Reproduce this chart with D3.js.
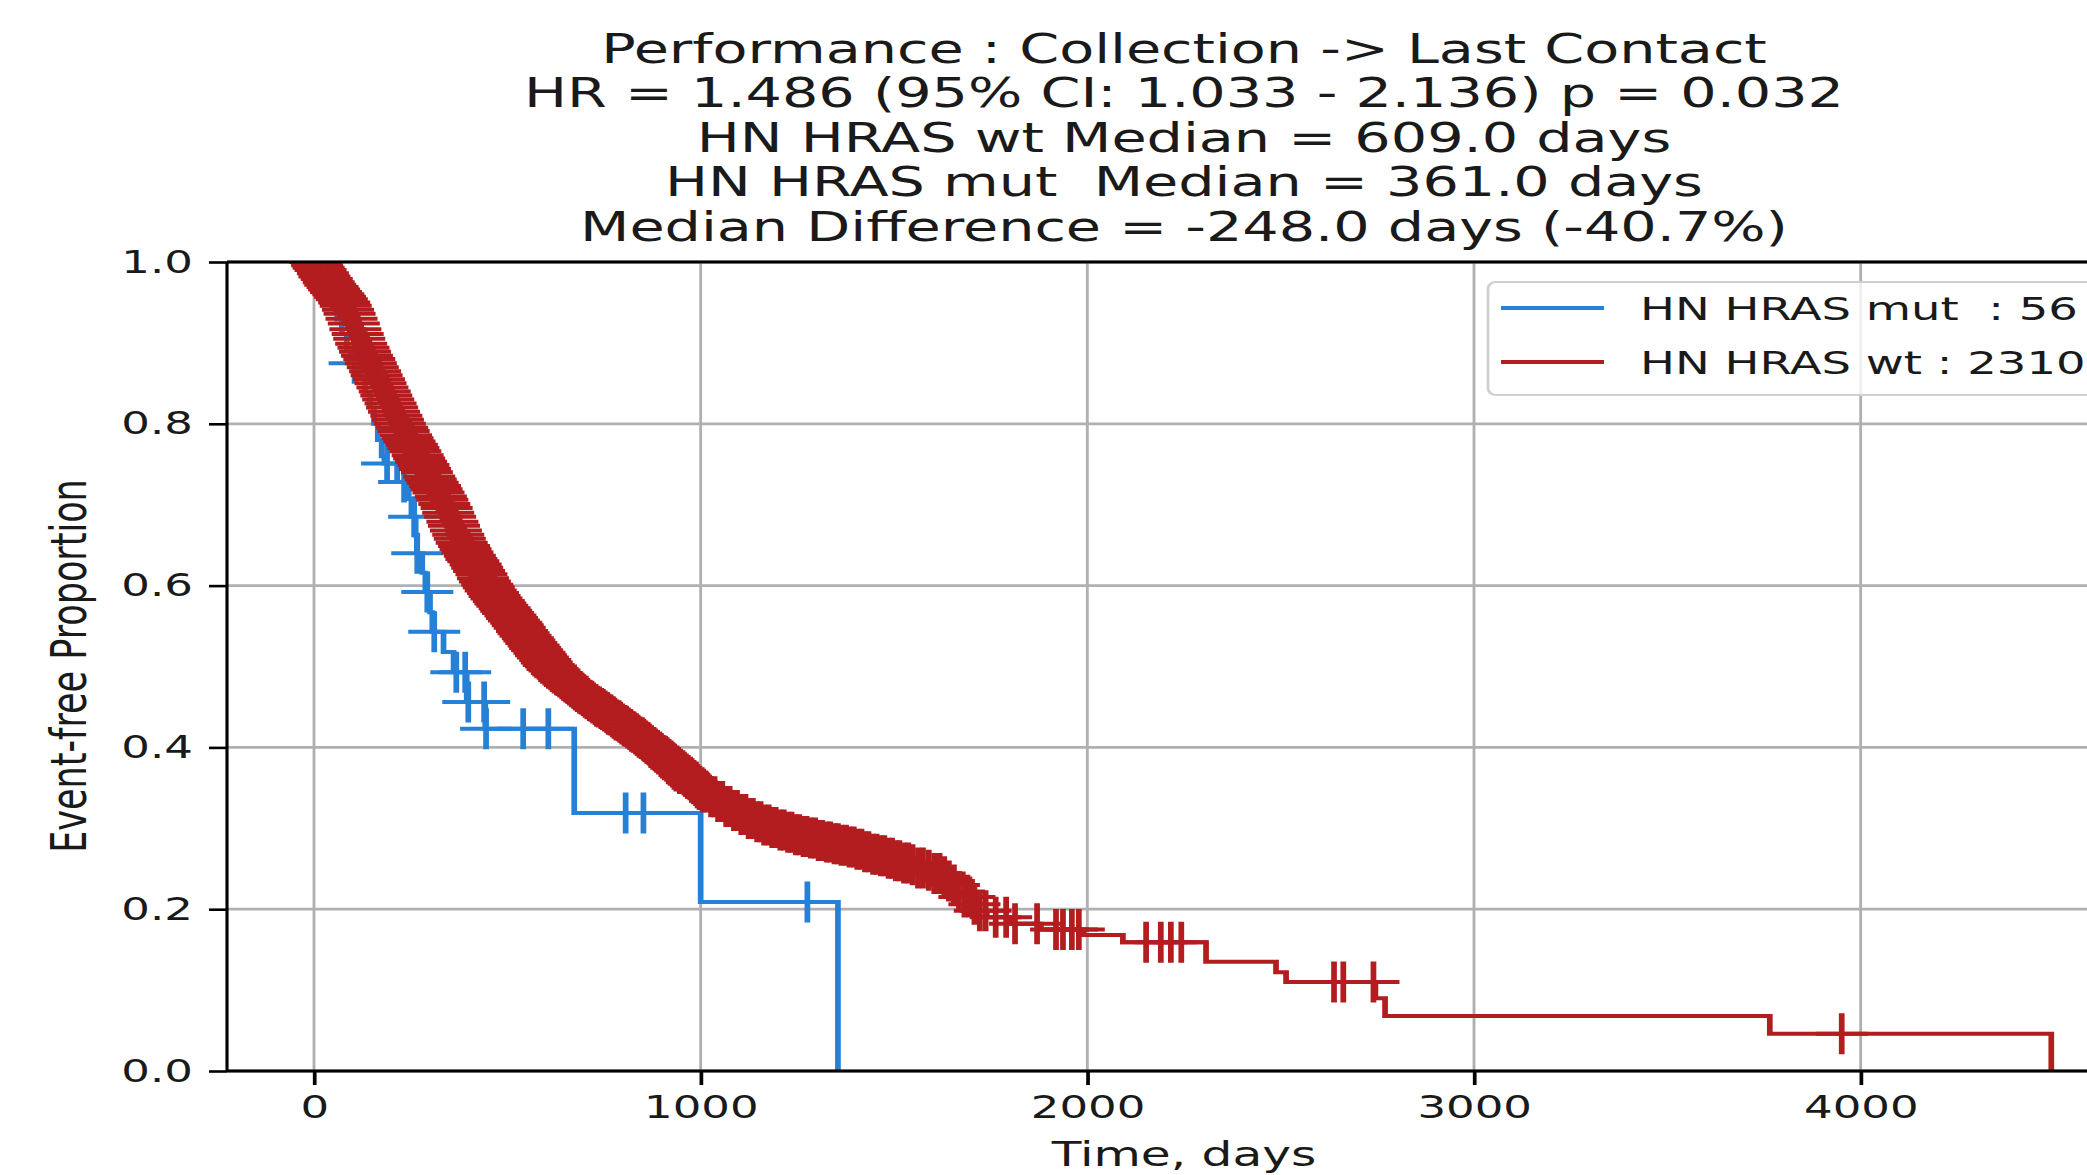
<!DOCTYPE html>
<html>
<head>
<meta charset="utf-8">
<script src="https://cdn.jsdelivr.net/npm/d3@7"></script>
<style>
  body { margin: 0; background: #fff; }
  text { font-family: 'DejaVu Sans', sans-serif; fill: #1a1a1a; }
</style>
</head>
<body>
<div id="chart"></div>
<script>
// ---- data ----
const titleLines = [
  'Performance : Collection -> Last Contact',
  'HR = 1.486 (95% CI: 1.033 - 2.136) p = 0.032',
  'HN HRAS wt Median = 609.0 days',
  'HN HRAS mut  Median = 361.0 days',
  'Median Difference = -248.0 days (-40.7%)'
];
const xTicks = [0, 1000, 2000, 3000, 4000];
const yTicks = [0, 0.2, 0.4, 0.6, 0.8, 1.0];
const legendLabels = ['HN HRAS mut  : 56', 'HN HRAS wt : 2310'];

// HN HRAS mut: step points (day, survival) and censored days
const mutDays = [0, 20, 35, 48, 60, 72, 85, 95, 120, 132, 145, 155, 165, 175, 182, 215, 245, 252, 263, 266, 280, 288, 300, 306, 335, 361, 395, 443, 673, 1000, 1355];
const mutSurv = [1.0, 0.982, 0.964, 0.946, 0.929, 0.911, 0.893, 0.875, 0.857, 0.839, 0.82, 0.80, 0.78, 0.76, 0.751, 0.728, 0.707, 0.685, 0.662, 0.640, 0.616, 0.592, 0.567, 0.543, 0.518, 0.493, 0.456, 0.423, 0.319, 0.209, 0.0];
const mutCensor = [105, 189, 233, 259, 267, 293, 311, 368, 391, 399, 440, 445, 541, 606, 806, 852, 1276];

// HN HRAS wt: step points (day, survival) and censored days
const wtDays = [
  0, 5, 10, 15, 20, 25, 30, 35, 40, 45, 50, 55, 60, 65, 70, 75, 80, 85, 90, 95,
  100, 105, 110, 115, 120, 125, 130, 135, 140, 145, 150, 155, 160, 165, 170, 175, 180, 185, 190, 195,
  200, 205, 210, 215, 220, 225, 230, 235, 240, 245, 250, 255, 260, 265, 270, 275, 280, 285, 290, 295,
  300, 305, 310, 315, 320, 325, 330, 335, 340, 345, 350, 355, 360, 365, 370, 375, 380, 385, 390, 395,
  400, 405, 410, 415, 420, 425, 430, 435, 440, 445, 450, 455, 460, 465, 470, 475, 480, 485, 490, 495,
  500, 505, 510, 515, 520, 525, 530, 535, 540, 545, 550, 555, 560, 565, 570, 575, 580, 585, 590, 595,
  600, 605, 610, 615, 620, 625, 630, 635, 640, 645, 650, 655, 660, 665, 670, 675, 680, 685, 690, 695,
  700, 705, 710, 715, 720, 725, 730, 735, 740, 745, 750, 755, 760, 765, 770, 775, 780, 785, 790, 795,
  800, 805, 810, 815, 820, 825, 830, 835, 840, 845, 850, 855, 860, 865, 870, 875, 880, 885, 890, 895,
  900, 905, 910, 915, 920, 925, 930, 935, 940, 945, 950, 955, 960, 965, 970, 975, 980, 985, 990, 995,
  1000, 1020, 1040, 1060, 1080, 1100, 1120, 1140, 1160, 1180, 1200, 1220, 1240, 1260, 1280, 1300,
  1320, 1340, 1360, 1380, 1400, 1420, 1440, 1460, 1480, 1500, 1520, 1540, 1560, 1580, 1600, 1620,
  1635, 1650, 1665, 1680, 1697, 1714, 1740, 1800, 1880, 1990, 2092, 2307, 2488, 2514, 2745, 2770, 3765, 4493
];
const wtSurv = [
  1.000, 0.996, 0.993, 0.990, 0.986, 0.982, 0.979, 0.975, 0.972, 0.969, 0.966, 0.963, 0.960, 0.957, 0.954, 0.950, 0.946, 0.941, 0.936, 0.930,
  0.924, 0.917, 0.911, 0.905, 0.899, 0.894, 0.889, 0.884, 0.880, 0.875, 0.870, 0.865, 0.860, 0.855, 0.850, 0.845, 0.840, 0.835, 0.830, 0.825,
  0.820, 0.815, 0.810, 0.805, 0.800, 0.795, 0.791, 0.786, 0.782, 0.778, 0.774, 0.770, 0.766, 0.761, 0.757, 0.753, 0.749, 0.744, 0.740, 0.735,
  0.731, 0.727, 0.723, 0.719, 0.715, 0.710, 0.706, 0.701, 0.696, 0.690, 0.685, 0.679, 0.674, 0.668, 0.663, 0.658, 0.653, 0.649, 0.645, 0.641,
  0.637, 0.633, 0.630, 0.626, 0.622, 0.618, 0.614, 0.609, 0.605, 0.601, 0.598, 0.594, 0.591, 0.587, 0.584, 0.581, 0.578, 0.575, 0.572, 0.569,
  0.566, 0.563, 0.560, 0.557, 0.554, 0.551, 0.548, 0.544, 0.541, 0.538, 0.535, 0.532, 0.529, 0.526, 0.523, 0.520, 0.517, 0.514, 0.511, 0.508,
  0.505, 0.502, 0.500, 0.497, 0.495, 0.492, 0.490, 0.488, 0.486, 0.483, 0.481, 0.479, 0.477, 0.475, 0.473, 0.471, 0.469, 0.467, 0.466, 0.464,
  0.462, 0.460, 0.458, 0.457, 0.455, 0.453, 0.451, 0.450, 0.448, 0.447, 0.445, 0.443, 0.441, 0.440, 0.438, 0.436, 0.434, 0.433, 0.431, 0.429,
  0.427, 0.426, 0.424, 0.422, 0.420, 0.419, 0.417, 0.415, 0.413, 0.412, 0.410, 0.408, 0.406, 0.404, 0.402, 0.400, 0.398, 0.396, 0.394, 0.392,
  0.390, 0.388, 0.386, 0.384, 0.382, 0.380, 0.377, 0.375, 0.373, 0.371, 0.369, 0.366, 0.364, 0.362, 0.360, 0.357, 0.355, 0.353, 0.350, 0.348,
  0.345, 0.339, 0.333, 0.327, 0.322, 0.317, 0.312, 0.308, 0.304, 0.301, 0.298, 0.295, 0.292, 0.290, 0.288, 0.285,
  0.283, 0.281, 0.279, 0.277, 0.274, 0.271, 0.268, 0.266, 0.263, 0.260, 0.257, 0.255, 0.251, 0.248, 0.244, 0.240,
  0.235, 0.230, 0.222, 0.215, 0.206, 0.198, 0.190, 0.182, 0.175, 0.168, 0.159, 0.135, 0.122, 0.110, 0.090, 0.068, 0.046, 0.0
];
const wtCensor = [
  3, 8, 12, 17, 23, 27, 33, 38, 42, 48, 52, 57, 63, 67, 72, 78, 82, 88, 92, 97,
  103, 107, 113, 117, 122, 128, 132, 137, 143, 147, 152, 158, 162, 168, 172, 177, 183, 187, 192, 198,
  202, 207, 213, 217, 222, 228, 232, 238, 242, 247, 253, 257, 262, 268, 272, 277, 283, 287, 292, 298,
  302, 307, 313, 317, 322, 328, 332, 337, 343, 347, 352, 358, 362, 367, 373, 377, 382, 388, 392, 397,
  403, 407, 412, 418, 422, 427, 433, 437, 442, 448, 452, 457, 463, 467, 472, 478, 482, 487, 493, 497,
  502, 508, 512, 517, 523, 527, 532, 538, 542, 547, 553, 557, 562, 568, 572, 577, 583, 587, 592, 598,
  602, 607, 613, 617, 622, 628, 632, 637, 643, 647, 652, 658, 662, 667, 673, 677, 682, 688, 692, 697,
  702, 707, 713, 717, 722, 728, 732, 737, 743, 747, 752, 758, 762, 767, 773, 777, 782, 788, 792, 797,
  803, 807, 812, 818, 822, 827, 833, 837, 842, 848, 852, 857, 863, 867, 872, 878, 882, 887, 893, 897,
  902, 907, 913, 917, 922, 928, 932, 937, 943, 947, 952, 958, 962, 967, 973, 977, 982, 988, 992, 997,
  1006, 1015, 1027, 1036, 1045, 1056, 1066, 1075, 1086, 1094, 1105, 1116, 1124, 1135, 1146, 1155, 1164, 1176, 1185, 1194,
  1206, 1215, 1226, 1235, 1246, 1255, 1266, 1274, 1285, 1296, 1305, 1314, 1326, 1335, 1346, 1355, 1364, 1376, 1385, 1396,
  1405, 1416, 1425, 1434, 1446, 1455, 1466, 1475, 1486, 1495, 1505, 1514, 1526, 1537, 1548, 1562, 1575, 1590, 1604, 1618,
  1630, 1642, 1655, 1668, 1682, 1695, 1708, 1722, 1737, 1763, 1790, 1813, 1870, 1919, 1937, 1960, 1978,
  2152, 2190, 2216, 2243, 2638, 2662, 2740, 3951
];

const mutColor = '#2680d6';
const wtColor = '#b31d1f';

// ---- layout ----
// the original figure was stretched horizontally, so everything is drawn in a scaled group
const W = 2087, H = 1175, SX = 1.43;
const plotTop = 262, plotBottom = 1071;
const plotLeft = 227 / SX, plotRight = 2141 / SX;

const svg = d3.select('#chart').append('svg')
  .attr('width', W).attr('height', H);
svg.append('rect').attr('width', W).attr('height', H).attr('fill', '#fff');

const g = svg.append('g').attr('transform', 'scale(' + SX + ',1)');

const x = d3.scaleLinear().domain([-225, 4725]).range([plotLeft, plotRight]);
const y = d3.scaleLinear().domain([0, 1]).range([plotBottom, plotTop]);

g.append('clipPath').attr('id', 'plotclip')
  .append('rect')
  .attr('x', plotLeft).attr('y', plotTop)
  .attr('width', plotRight - plotLeft).attr('height', plotBottom - plotTop);

// grid
g.append('g').selectAll('line').data(xTicks).join('line')
  .attr('x1', d => x(d)).attr('x2', d => x(d))
  .attr('y1', plotTop).attr('y2', plotBottom)
  .attr('stroke', '#b0b0b0').attr('stroke-width', 2);
g.append('g').selectAll('line').data(yTicks).join('line')
  .attr('x1', plotLeft).attr('x2', plotRight)
  .attr('y1', d => y(d)).attr('y2', d => y(d))
  .attr('stroke', '#b0b0b0').attr('stroke-width', 2.8);

// curves
const plot = g.append('g').attr('clip-path', 'url(#plotclip)');
const line = d3.line().x(d => x(d[0])).y(d => y(d[1])).curve(d3.curveStepAfter);

const survAt = (days, surv, t) => surv[Math.max(0, d3.bisectRight(days, t) - 1)];
const plusPath = (cx, cy) => {
  const h = 26 / SX, v = 20.5;
  return 'M' + (cx - h) + ',' + cy + 'H' + (cx + h) + 'M' + cx + ',' + (cy - v) + 'V' + (cy + v);
};

function drawSeries(days, surv, censor, color) {
  plot.append('path')
    .datum(days.map((d, i) => [d, surv[i]]))
    .attr('d', line)
    .attr('fill', 'none')
    .attr('stroke', color)
    .attr('stroke-width', 4);
  plot.append('g').selectAll('path').data(censor).join('path')
    .attr('d', t => plusPath(x(t), y(survAt(days, surv, t))))
    .attr('fill', 'none')
    .attr('stroke', color)
    .attr('stroke-width', 4);
}
drawSeries(mutDays, mutSurv, mutCensor, mutColor);
drawSeries(wtDays, wtSurv, wtCensor, wtColor);

// axes
const xAxis = g.append('g')
  .attr('transform', 'translate(0,' + plotBottom + ')')
  .call(d3.axisBottom(x).tickValues(xTicks).tickSize(14).tickPadding(11).tickFormat(d3.format('d')));
const yAxis = g.append('g')
  .attr('transform', 'translate(' + plotLeft + ',0)')
  .call(d3.axisLeft(y).tickValues(yTicks).tickSize(18 / SX).tickPadding(16 / SX).tickFormat(d3.format('.1f')));
[xAxis, yAxis].forEach(a => {
  a.select('.domain').remove();
  a.selectAll('.tick line').attr('stroke', '#000').attr('stroke-width', 2.6);
  a.selectAll('.tick text').attr('font-size', 31.5).attr('font-family', 'DejaVu Sans').attr('fill', '#1a1a1a');
});

// spines
g.append('line').attr('x1', plotLeft).attr('x2', plotLeft).attr('y1', plotTop).attr('y2', plotBottom)
  .attr('stroke', '#000').attr('stroke-width', 2.2);
g.append('line').attr('x1', plotLeft).attr('x2', plotRight).attr('y1', plotTop).attr('y2', plotTop)
  .attr('stroke', '#000').attr('stroke-width', 3);
g.append('line').attr('x1', plotLeft).attr('x2', plotRight).attr('y1', plotBottom).attr('y2', plotBottom)
  .attr('stroke', '#000').attr('stroke-width', 3);

// legend
const lg = g.append('g');
lg.append('rect')
  .attr('x', 1488 / SX).attr('y', 282)
  .attr('width', 700).attr('height', 113)
  .attr('rx', 5).attr('ry', 7)
  .attr('fill', '#fff').attr('fill-opacity', 0.8)
  .attr('stroke', '#d0d0d0').attr('stroke-width', 2);
const legendColors = [mutColor, wtColor];
legendLabels.forEach((lab, i) => {
  const ly = 308 + i * 54;
  lg.append('line')
    .attr('x1', 1501 / SX).attr('x2', 1604 / SX)
    .attr('y1', ly).attr('y2', ly)
    .attr('stroke', legendColors[i]).attr('stroke-width', 4);
  lg.append('text')
    .attr('x', 1640 / SX).attr('y', ly + 12)
    .attr('font-size', 32.5)
    .style('white-space', 'pre')
    .text(lab);
});

// titles and labels
const cx = (227 + 2141) / 2 / SX;
g.append('g').selectAll('text').data(titleLines).join('text')
  .attr('x', cx).attr('y', (d, i) => 63 + i * 44.5)
  .attr('text-anchor', 'middle')
  .attr('font-size', 40)
  .style('white-space', 'pre')
  .text(d => d);

g.append('text')
  .attr('x', cx).attr('y', 1166)
  .attr('text-anchor', 'middle')
  .attr('font-size', 34)
  .text('Time, days');

g.append('text')
  .attr('transform', 'translate(' + (69 / SX) + ',666) rotate(-90)')
  .attr('text-anchor', 'middle')
  .attr('dominant-baseline', 'central')
  .attr('font-size', 35)
  .text('Event-free Proportion');
</script>
</body>
</html>
